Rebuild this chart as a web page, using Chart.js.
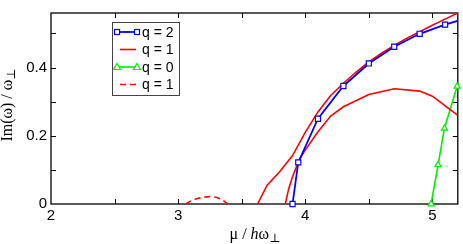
<!DOCTYPE html>
<html>
<head>
<meta charset="utf-8">
<script src="https://cdn.jsdelivr.net/npm/chart.js@4.4.0/dist/chart.umd.min.js"></script>
<style>
    body { margin: 0; background: #fff; }
    #wrap { width: 463px; height: 244px; }
</style>
</head>
<body>
<div id="wrap"><canvas id="imChart"></canvas></div>
<script>
// q = 2 (blue, squares)
const q2Mu = [3.9, 3.945, 4.1, 4.3, 4.5, 4.7, 4.9, 5.1, 5.3];
const q2Im = [0, 0.122, 0.25, 0.346, 0.412, 0.461, 0.499, 0.526, 0.548];

// q = 1 solid, upper branch
const q1aMu = [3.625, 3.7, 3.8, 3.9, 4.0, 4.1, 4.2, 4.3, 4.4, 4.5, 4.6, 4.7, 4.8, 4.9, 5.0, 5.1, 5.2];
const q1aIm = [0, 0.055, 0.095, 0.142, 0.21, 0.27, 0.318, 0.354, 0.387, 0.417, 0.442, 0.465, 0.486, 0.505, 0.524, 0.542, 0.56];

// q = 1 solid, lower branch
const q1bMu = [3.843, 3.87, 3.9, 3.95, 4.0, 4.1, 4.2, 4.3, 4.5, 4.7, 4.9, 5.0, 5.2];
const q1bIm = [0, 0.045, 0.08, 0.128, 0.158, 0.212, 0.258, 0.285, 0.321, 0.338, 0.331, 0.316, 0.26];

// q = 0 (green, triangles)
const q0Mu = [4.99, 5.045, 5.095, 5.195];
const q0Im = [0, 0.115, 0.222, 0.345];

// q = 1 dashed
const q1dMu = [3.06, 3.1, 3.15, 3.2, 3.25, 3.3, 3.35, 3.39];
const q1dIm = [0, 0.009, 0.016, 0.02, 0.022, 0.02, 0.012, 0];

const xTickValues = [2, 3, 4, 5];
const yTickValues = [0, 0.2, 0.4];
const xInnerTicks = [2.5, 3, 3.5, 4, 4.5, 5];
const yInnerTicks = [0.1, 0.2, 0.3, 0.4, 0.5];

const legendLabels = ['q = 2', 'q = 1', 'q = 0', 'q = 1'];

const toPoints = (xs, ys) => xs.map((v, i) => ({ x: v, y: ys[i] }));

// Inner ticks on all four sides plus the box
const framePlugin = {
    id: 'frame',
    beforeDatasetsDraw(chart) {
        const { ctx, chartArea: a, scales: { x, y } } = chart;
        ctx.save();
        ctx.strokeStyle = '#000';
        ctx.lineWidth = 1;
        ctx.beginPath();
        xInnerTicks.forEach(v => {
            const px = Math.round(x.getPixelForValue(v)) + 0.5;
            ctx.moveTo(px, a.bottom); ctx.lineTo(px, a.bottom - 5);
            ctx.moveTo(px, a.top); ctx.lineTo(px, a.top + 5);
        });
        yInnerTicks.forEach(v => {
            const py = Math.round(y.getPixelForValue(v)) + 0.5;
            ctx.moveTo(a.left, py); ctx.lineTo(a.left + 5, py);
            ctx.moveTo(a.right, py); ctx.lineTo(a.right - 5, py);
        });
        ctx.stroke();
        ctx.lineWidth = 1.3;
        ctx.strokeRect(a.left, a.top, a.right - a.left, a.bottom - a.top);
        ctx.restore();
    }
};

// Axis titles with subscripts, and the boxed legend
const textPlugin = {
    id: 'texts',
    afterDraw(chart) {
        const { ctx } = chart;
        ctx.save();
        ctx.fillStyle = '#000';
        ctx.textBaseline = 'alphabetic';

        // x title: μ / hω⊥
        const serif = '16px "Liberation Serif", "DejaVu Serif", serif';
        const serifIt = 'italic 16px "Liberation Serif", "DejaVu Serif", serif';
        const sub = '12px "Liberation Serif", "DejaVu Serif", serif';
        const parts = [
            { t: 'μ / ', f: serif, dy: 0 },
            { t: 'h', f: serifIt, dy: 0 },
            { t: 'ω', f: serif, dy: 0 },
            { t: '⊥', f: sub, dy: 3 }
        ];
        let total = 0;
        parts.forEach(p => { ctx.font = p.f; total += ctx.measureText(p.t).width; });
        let cx = 255 - total / 2;
        parts.forEach(p => {
            ctx.font = p.f;
            ctx.fillText(p.t, cx, 239 + p.dy);
            cx += ctx.measureText(p.t).width;
        });

        // y title: Im(ω) / ω⊥
        const yParts = [
            { t: 'Im(ω) / ω', f: serif, dy: 0 },
            { t: '⊥', f: sub, dy: 3 }
        ];
        let yTotal = 0;
        yParts.forEach(p => { ctx.font = p.f; yTotal += ctx.measureText(p.t).width; });
        ctx.translate(12, 105);
        ctx.rotate(-Math.PI / 2);
        let cy = -yTotal / 2;
        yParts.forEach(p => {
            ctx.font = p.f;
            ctx.fillText(p.t, cy, p.dy);
            cy += ctx.measureText(p.t).width;
        });
        ctx.setTransform(1, 0, 0, 1, 0, 0);

        // legend box
        ctx.fillStyle = '#fff';
        ctx.fillRect(112.5, 22.5, 67, 73);
        ctx.strokeStyle = '#444';
        ctx.lineWidth = 1;
        ctx.strokeRect(112.5, 22.5, 67, 73);

        const rows = [32, 49.5, 67, 84.5];
        const ds = chart.data.datasets;
        const legendDs = [ds[0], ds[1], ds[3], ds[4]];
        legendDs.forEach((d, i) => {
            const ly = rows[i];
            ctx.strokeStyle = d.borderColor;
            ctx.lineWidth = d.borderWidth;
            ctx.setLineDash(d.borderDash || []);
            ctx.beginPath();
            if (d.pointStyle === 'rect' || d.pointStyle === 'triangle') {
                ctx.moveTo(117, ly); ctx.lineTo(137, ly);
            } else {
                ctx.moveTo(120, ly); ctx.lineTo(136, ly);
            }
            ctx.stroke();
            ctx.setLineDash([]);
            ctx.lineWidth = 1.2;
            if (d.pointStyle === 'rect') {
                [117, 137].forEach(px => {
                    ctx.fillStyle = '#fff';
                    ctx.fillRect(px - 2.5, ly - 2.5, 5, 5);
                    ctx.strokeRect(px - 2.5, ly - 2.5, 5, 5);
                });
            } else if (d.pointStyle === 'triangle') {
                [117, 137].forEach(px => {
                    ctx.fillStyle = '#fff';
                    ctx.beginPath();
                    ctx.moveTo(px, ly - 3.5);
                    ctx.lineTo(px + 3.5, ly + 2.5);
                    ctx.lineTo(px - 3.5, ly + 2.5);
                    ctx.closePath();
                    ctx.fill();
                    ctx.stroke();
                });
            }
            ctx.fillStyle = '#000';
            ctx.font = '14px "Liberation Sans", Arial, sans-serif';
            ctx.textBaseline = 'middle';
            ctx.fillText(legendLabels[i], 142, ly + 1);
        });
        ctx.restore();
    }
};

const ctx = document.getElementById('imChart').getContext('2d');
const imChart = new Chart(ctx, {
    type: 'line',
    data: {
        datasets: [
            {
                label: legendLabels[0],
                data: toPoints(q2Mu, q2Im),
                borderColor: '#0000ff',
                backgroundColor: '#ffffff',
                borderWidth: 1.8,
                pointStyle: 'rect',
                pointRadius: 3.6,
                pointBorderWidth: 1.2,
                clip: { left: 0, top: 0, right: 0, bottom: 5 },
            },
            {
                label: legendLabels[1],
                data: toPoints(q1aMu, q1aIm),
                borderColor: '#ff0000',
                borderWidth: 1.6,
                pointRadius: 0,
            },
            {
                label: legendLabels[1],
                data: toPoints(q1bMu, q1bIm),
                borderColor: '#ff0000',
                borderWidth: 1.6,
                pointRadius: 0,
            },
            {
                label: legendLabels[2],
                data: toPoints(q0Mu, q0Im),
                borderColor: '#00ee00',
                backgroundColor: '#ffffff',
                borderWidth: 1.6,
                pointStyle: 'triangle',
                pointRadius: 3.6,
                pointBorderWidth: 1.2,
                clip: { left: 0, top: 0, right: 5, bottom: 5 },
            },
            {
                label: legendLabels[3],
                data: toPoints(q1dMu, q1dIm),
                borderColor: '#ff0000',
                borderWidth: 1.6,
                borderDash: [6, 4],
                pointRadius: 0,
            },
        ],
    },
    options: {
        responsive: true,
        maintainAspectRatio: false,
        animation: false,
        layout: { padding: { top: 2, right: 5, left: 0, bottom: 0 } },
        plugins: {
            legend: { display: false },
            tooltip: { enabled: false },
        },
        elements: { line: { tension: 0 } },
        scales: {
            x: {
                type: 'linear',
                min: 2,
                max: 5.2,
                grid: { display: false, drawTicks: false },
                border: { display: false },
                afterBuildTicks: (scale) => { scale.ticks = xTickValues.map(v => ({ value: v })); },
                afterFit: (scale) => { scale.height = 40; },
                ticks: {
                    padding: 3,
                    color: '#000',
                    maxRotation: 0,
                    font: { family: '"Liberation Sans", Arial, sans-serif', size: 15 },
                },
            },
            y: {
                type: 'linear',
                min: 0,
                max: 0.56,
                grid: { display: false, drawTicks: false },
                border: { display: false },
                afterBuildTicks: (scale) => { scale.ticks = yTickValues.map(v => ({ value: v })); },
                afterFit: (scale) => { scale.width = 51; },
                ticks: {
                    padding: 4,
                    color: '#000',
                    font: { family: '"Liberation Sans", Arial, sans-serif', size: 15 },
                },
            },
        },
    },
    plugins: [framePlugin, textPlugin],
});
</script>
</body>
</html>
